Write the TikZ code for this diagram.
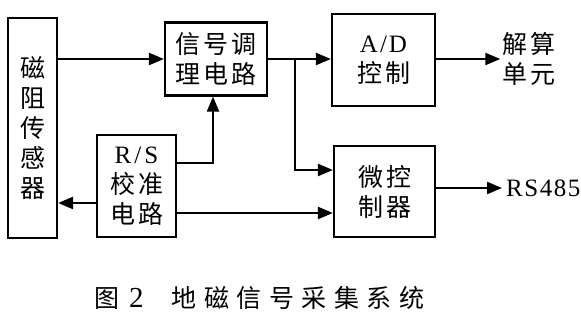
\documentclass[tikz,border=0pt]{standalone}
\usepackage{fontspec}
\setmainfont{Liberation Serif}
\newfontfamily\latin[LetterSpace=6]{Liberation Serif}
\newfontfamily\cjk[LetterSpace=12]{Noto Sans CJK SC}
\newfontfamily\cjkwide[LetterSpace=30]{Noto Sans CJK SC}
\usetikzlibrary{arrows.meta,calc}

\begin{document}
\begin{tikzpicture}[x=1pt, y=-1pt, >={Triangle[length=15pt,width=12pt]},
  blockbox/.style={draw, line width=2.2pt, align=center, inner sep=0pt,
    font=\fontsize{25}{30}\selectfont},
  wire/.style={->, line width=2.2pt}]

  \useasboundingbox (0,0) rectangle (581,324);

  % --- 1. 各ブロック ---
  \node[blockbox, minimum width=49pt, minimum height=220pt] (sensor) at (32.5,128)
    {\cjk 磁\\\cjk 阻\\\cjk 传\\\cjk 感\\\cjk 器};
  \node[blockbox, minimum width=102pt, minimum height=73pt] (signal) at (216,59)
    {\cjk 信号调\\\cjk 理电路};
  \node[blockbox, minimum width=79pt, minimum height=102pt] (rs) at (136.5,186)
    {\latin R\kern3pt/\kern3pt S\\\cjk 校准\\\cjk 电路};
  \node[blockbox, minimum width=103pt, minimum height=92pt] (ad) at (383.5,60)
    {\latin A\kern2pt/\kern2pt D\\\cjk 控制};
  \node[blockbox, minimum width=101pt, minimum height=91pt] (micro) at (384.5,191.5)
    {\cjk 微控\\\cjk 制器};

  % --- 2. 出力ラベル ---
  \node[align=center, inner sep=0pt, font=\fontsize{25}{30}\selectfont] (solve) at (529,59)
    {\cjk 解算\\\cjk 单元};
  \node[inner sep=0pt, anchor=west, font=\fontsize{25}{30}\selectfont] (rs485) at (506,188) {\latin RS485};

  % --- 3. 分岐点など ---
  \coordinate (split) at (295,59);
  \coordinate (bend) at (295,170);
  \coordinate (rsUp) at (213,163);
  \coordinate (back) at (0,203);
  \coordinate (fwd) at (0,213);

  % --- 4. 接続線 ---
  \draw[wire] (sensor.east |- signal.west) -- (signal.west);
  \draw[wire] (signal.east) -- (signal.east -| ad.west);
  \draw[wire] (split) -- (bend) -- (bend -| micro.west);
  \draw[wire] (rsUp -| rs.east) -- (rsUp) -- (rsUp |- signal.south);
  \draw[wire] (rs.west |- back) -- (sensor.east |- back);
  \draw[wire] (rs.east |- fwd) -- (micro.west |- fwd);
  \draw[wire] (ad.east |- solve.west) -- ([xshift=-2pt]solve.west);
  \draw[wire] (micro.east |- rs485.west) -- ([xshift=-4pt]rs485.west);

  % --- 5. 図のタイトル ---
  \node[inner sep=0pt, anchor=west, font=\fontsize{25}{30}\selectfont] (caption) at (94,298)
    {\cjk 图\hspace{10pt}\fontsize{29}{30}\selectfont\latin 2\hspace{28pt}\fontsize{25}{30}\selectfont\cjkwide 地磁信号采集系统};

\end{tikzpicture}
\end{document}
